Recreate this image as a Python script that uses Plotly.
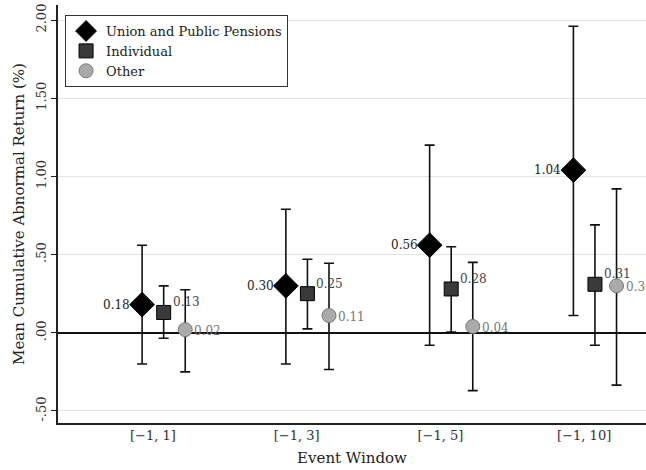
import plotly.graph_objects as go

# Event windows and group estimates (mean CAR in %, with 95% CI bounds)
windows = ["[\u22121, 1]", "[\u22121, 3]", "[\u22121, 5]", "[\u22121, 10]"]

union_mean = [0.18, 0.30, 0.56, 1.04]
union_lo = [-0.20, -0.20, -0.08, 0.11]
union_hi = [0.56, 0.79, 1.20, 1.96]

indiv_mean = [0.13, 0.25, 0.28, 0.31]
indiv_lo = [-0.035, 0.025, 0.005, -0.08]
indiv_hi = [0.30, 0.47, 0.55, 0.69]

other_mean = [0.02, 0.11, 0.04, 0.30]
other_lo = [-0.25, -0.235, -0.37, -0.335]
other_hi = [0.275, 0.445, 0.45, 0.92]

y_ticks = [-0.5, 0.0, 0.5, 1.0, 1.5, 2.0]
y_tick_text = ["-.50", ".00", ".50", "1.00", "1.50", "2.00"]

FONT = "DejaVu Serif"
pos = list(range(1, len(windows) + 1))
offset = 0.075

series = [
    dict(name="Union and Public Pensions", mean=union_mean, lo=union_lo, hi=union_hi,
         dx=-offset, symbol="diamond", size=19, color="black", line="black",
         text_color="#222222", anchor="right", xshift=-10, yshift=0),
    dict(name="Individual", mean=indiv_mean, lo=indiv_lo, hi=indiv_hi,
         dx=offset, symbol="square", size=14, color="#3a3a3a", line="black",
         text_color="#444444", anchor="left", xshift=7, yshift=10),
    dict(name="Other", mean=other_mean, lo=other_lo, hi=other_hi,
         dx=3 * offset, symbol="circle", size=14, color="#aaaaaa", line="#777777",
         text_color="#777777", anchor="left", xshift=7, yshift=-1),
]

fig = go.Figure()
annotations = []
for s in series:
    xs = [p + s["dx"] for p in pos]
    fig.add_trace(go.Scatter(
        x=xs, y=s["mean"], mode="markers", name=s["name"],
        marker=dict(symbol=s["symbol"], size=s["size"], color=s["color"],
                    line=dict(color=s["line"], width=1)),
        error_y=dict(type="data", symmetric=False,
                     array=[h - m for h, m in zip(s["hi"], s["mean"])],
                     arrayminus=[m - l for m, l in zip(s["mean"], s["lo"])],
                     color="#111111", thickness=1.6, width=5),
    ))
    for x, m in zip(xs, s["mean"]):
        annotations.append(dict(
            x=x, y=m, text=f"{m:.2f}", showarrow=False, xanchor=s["anchor"],
            yanchor="middle", xshift=s["xshift"], yshift=s["yshift"],
            font=dict(family=FONT, size=12, color=s["text_color"]),
        ))

fig.update_layout(
    width=646, height=470,
    margin=dict(l=58, r=0, t=5, b=47),
    paper_bgcolor="white", plot_bgcolor="white",
    font=dict(family=FONT, color="#222222"),
    annotations=annotations,
    showlegend=True,
    legend=dict(x=0.012, y=0.976, xanchor="left", yanchor="top",
                bordercolor="#333333", borderwidth=1, bgcolor="white",
                font=dict(family=FONT, size=13, color="#222222"),
                tracegroupgap=0, itemwidth=30),
    xaxis=dict(range=[0.34, 4.43], tickvals=pos, ticktext=windows,
               showgrid=False, zeroline=False, showline=True,
               linecolor="#222222", linewidth=1.5, ticks="",
               tickfont=dict(family=FONT, size=13, color="#333333"),
               title=dict(text="Event Window", standoff=10,
                          font=dict(family=FONT, size=15, color="#222222"))),
    yaxis=dict(range=[-0.577, 2.096], tickvals=y_ticks, ticktext=y_tick_text,
               tickangle=-90, showgrid=True, gridcolor="#e3e3e3", gridwidth=1,
               zeroline=True, zerolinecolor="#111111", zerolinewidth=1.5,
               showline=True, linecolor="#222222", linewidth=1.5,
               ticks="outside", ticklen=5, tickcolor="#222222",
               tickfont=dict(family=FONT, size=13, color="#333333"),
               title=dict(text="Mean Cumulative Abnormal Return (%)", standoff=6,
                          font=dict(family=FONT, size=15, color="#222222"))),
)

fig.write_html("out.html")
